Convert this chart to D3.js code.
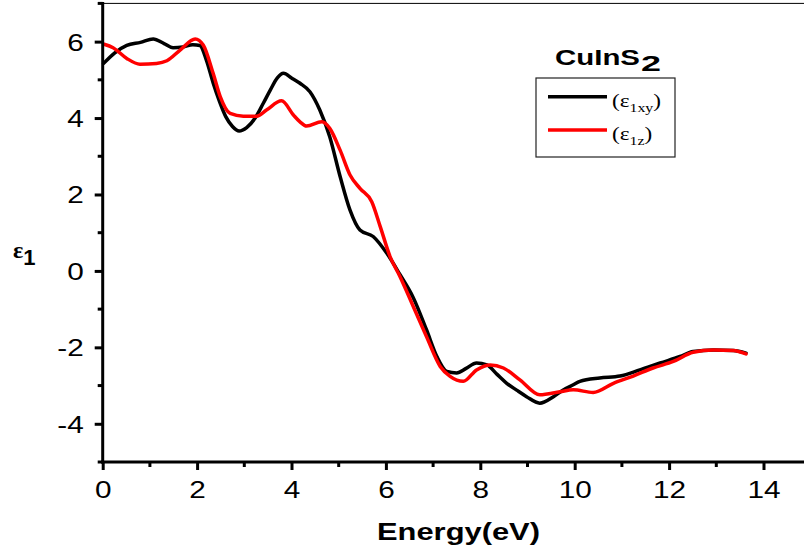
<!DOCTYPE html>
<html>
<head>
<meta charset="utf-8">
<script src="https://cdn.jsdelivr.net/npm/d3@7/dist/d3.min.js"></script>
<style>
  body { margin: 0; background: #fff; }
  svg { display: block; }
</style>
</head>
<body>
<svg id="chart" width="804" height="556"></svg>
<script>
// Real part of the dielectric function of CuInS2 versus photon energy
const energyXY = [0.02, 0.25, 0.51, 0.8, 1.07, 1.3, 1.49, 1.7, 1.91, 2.06, 2.2, 2.34, 2.47, 2.61, 2.75, 2.89,
  3.05, 3.23, 3.4, 3.55, 3.7, 3.83, 4.0, 4.18, 4.39, 4.6, 4.81, 5.03, 5.24, 5.45, 5.73, 6.02, 6.3, 6.58,
  6.86, 7.08, 7.29, 7.5, 7.7, 7.92, 8.14, 8.35, 8.56, 8.77, 8.98, 9.26, 9.55, 9.75, 9.97, 10.11, 10.53,
  10.96, 11.38, 11.81, 12.23, 12.51, 12.94, 13.36, 13.63];
const eps1xy = [5.43, 5.70, 5.90, 5.98, 6.07, 5.95, 5.84, 5.86, 5.92, 5.90, 5.50, 4.92, 4.45, 4.03, 3.78, 3.66,
  3.75, 4.00, 4.38, 4.73, 5.05, 5.17, 5.05, 4.91, 4.69, 4.21, 3.51, 2.47, 1.59, 1.07, 0.90, 0.46, -0.10, -0.70,
  -1.54, -2.24, -2.63, -2.67, -2.55, -2.41, -2.46, -2.70, -2.94, -3.12, -3.29, -3.46, -3.29, -3.12, -2.98, -2.89, -2.80,
  -2.75, -2.59, -2.41, -2.24, -2.11, -2.07, -2.08, -2.15];

const energyZ = [0.03, 0.22, 0.51, 0.79, 1.14, 1.36, 1.64, 1.96, 2.13, 2.34, 2.49, 2.7, 2.98, 3.26, 3.47, 3.79,
  4.04, 4.18, 4.32, 4.64, 4.81, 5.03, 5.24, 5.45, 5.7, 5.88, 6.09, 6.3, 6.58, 6.86, 7.15, 7.36, 7.64, 7.92,
  8.21, 8.49, 8.84, 9.26, 9.69, 9.97, 10.39, 10.82, 11.24, 11.66, 12.09, 12.51, 12.94, 13.36, 13.63];
const eps1z = [5.93, 5.84, 5.56, 5.41, 5.43, 5.50, 5.78, 6.07, 5.91, 5.17, 4.56, 4.12, 4.05, 4.05, 4.21, 4.45,
  4.08, 3.90, 3.79, 3.90, 3.73, 3.16, 2.51, 2.16, 1.81, 1.16, 0.37, -0.15, -0.93, -1.72, -2.50, -2.76, -2.89, -2.59,
  -2.46, -2.54, -2.85, -3.24, -3.16, -3.11, -3.18, -2.94, -2.75, -2.54, -2.37, -2.13, -2.07, -2.08, -2.17];

const xTicks = [0, 2, 4, 6, 8, 10, 12, 14];
const xMinorTicks = [1, 3, 5, 7, 9, 11, 13];
const yTicks = [-4, -2, 0, 2, 4, 6];
const yMinorTicks = [-5, -3, -1, 1, 3, 5, 7];

const seriesLabels = [
  { main: "(ε", sub: "1xy", close: ")" },
  { main: "(ε", sub: "1z", close: ")" }
];
const seriesColors = ["#000000", "#ff0000"];
const legendTitle = "CuInS";
const legendTitleSub = "2";
const xTitle = "Energy(eV)";

const svg = d3.select("#chart");
const plotLeft = 102.7, plotBottom = 462, plotTop = 3.4;
const x = d3.scaleLinear().domain([0, 15]).range([plotLeft, 810.7]);
const y = d3.scaleLinear().domain([-5, 7]).range([plotBottom, plotTop]);
const stretch = 1.24;
const sans = "'Liberation Sans', Arial, sans-serif";
const serif = "'Liberation Serif', 'Times New Roman', serif";

// Curves
const line = d3.line().x(d => x(d[0])).y(d => y(d[1])).curve(d3.curveMonotoneX);
const series = [d3.zip(energyXY, eps1xy), d3.zip(energyZ, eps1z)];
svg.append("g").selectAll("path").data(series).join("path")
  .attr("d", line)
  .attr("fill", "none")
  .attr("stroke", (d, i) => seriesColors[i])
  .attr("stroke-width", 3.5)
  .attr("stroke-linejoin", "round")
  .attr("stroke-linecap", "round");

// Frame
svg.append("line").attr("x1", plotLeft).attr("x2", 804).attr("y1", plotTop).attr("y2", plotTop)
  .attr("stroke", "#000").attr("stroke-width", 1);

// Bottom axis
const xAxis = svg.append("g").attr("transform", `translate(0,${plotBottom})`)
  .call(d3.axisBottom(x).tickValues(xTicks).tickSize(8).tickPadding(11).tickFormat(d3.format("d")));
xAxis.select(".domain").remove();
xAxis.selectAll(".tick line").attr("stroke-width", 3);
xAxis.selectAll(".tick text")
  .attr("font-family", sans).attr("font-size", 24).attr("fill", "#000")
  .attr("transform", `scale(${stretch},1)`);
svg.append("g").selectAll("line").data(xMinorTicks).join("line")
  .attr("x1", d => x(d)).attr("x2", d => x(d))
  .attr("y1", plotBottom).attr("y2", plotBottom + 5)
  .attr("stroke", "#000").attr("stroke-width", 3);
svg.append("line").attr("x1", plotLeft - 1.5).attr("x2", 804).attr("y1", plotBottom).attr("y2", plotBottom)
  .attr("stroke", "#000").attr("stroke-width", 3);

// Left axis
const yAxis = svg.append("g").attr("transform", `translate(${plotLeft},0)`)
  .call(d3.axisLeft(y).tickValues(yTicks).tickSize(8).tickPadding(11).tickFormat(d => String(d)));
yAxis.select(".domain").remove();
yAxis.selectAll(".tick line").attr("stroke-width", 3);
yAxis.selectAll(".tick text")
  .attr("font-family", sans).attr("font-size", 24).attr("fill", "#000")
  .attr("dy", "0.35em")
  .attr("x", -19 / stretch)
  .attr("transform", `scale(${stretch},1)`);
svg.append("g").selectAll("line").data(yMinorTicks).join("line")
  .attr("x1", plotLeft).attr("x2", plotLeft - 5)
  .attr("y1", d => y(d)).attr("y2", d => y(d))
  .attr("stroke", "#000").attr("stroke-width", 3);
svg.append("line").attr("x1", plotLeft).attr("x2", plotLeft).attr("y1", plotTop - 1.5).attr("y2", plotBottom + 1.5)
  .attr("stroke", "#000").attr("stroke-width", 3);

// Axis titles
svg.append("text")
  .attr("x", 377).attr("y", 540)
  .attr("font-family", sans).attr("font-weight", "bold").attr("font-size", 23)
  .attr("textLength", 163).attr("lengthAdjust", "spacingAndGlyphs")
  .text(xTitle);

const yTitle = svg.append("text")
  .attr("x", 13).attr("y", 258)
  .attr("font-family", serif).attr("font-weight", "bold").attr("font-size", 24);
yTitle.append("tspan").text("ε");
yTitle.append("tspan").attr("font-family", sans).attr("dy", 7).attr("font-size", 22).text("1");

// Legend
svg.append("text")
  .attr("x", 555).attr("y", 65)
  .attr("font-family", sans).attr("font-weight", "bold").attr("font-size", 21.5)
  .attr("textLength", 85).attr("lengthAdjust", "spacingAndGlyphs")
  .text(legendTitle);
svg.append("text")
  .attr("x", 641).attr("y", 70.5)
  .attr("font-family", sans).attr("font-weight", "bold").attr("font-size", 21.5)
  .attr("textLength", 20).attr("lengthAdjust", "spacingAndGlyphs")
  .text(legendTitleSub);

svg.append("rect")
  .attr("x", 536).attr("y", 78).attr("width", 139).attr("height", 79)
  .attr("fill", "none").attr("stroke", "#222").attr("stroke-width", 1.2);

const rows = [96.7, 130];
seriesLabels.forEach((lab, i) => {
  svg.append("line")
    .attr("x1", 548).attr("x2", 607).attr("y1", rows[i]).attr("y2", rows[i])
    .attr("stroke", seriesColors[i]).attr("stroke-width", 3.5);
  const t = svg.append("text")
    .attr("transform", `translate(612,${rows[i] + 10}) scale(1.22,1)`)
    .attr("font-family", serif).attr("font-size", 19).attr("fill", "#000");
  t.append("tspan").text(lab.main);
  t.append("tspan").attr("font-size", 13).attr("dy", 5).text(lab.sub);
  t.append("tspan").attr("dy", -5).text(lab.close);
});
</script>
</body>
</html>
